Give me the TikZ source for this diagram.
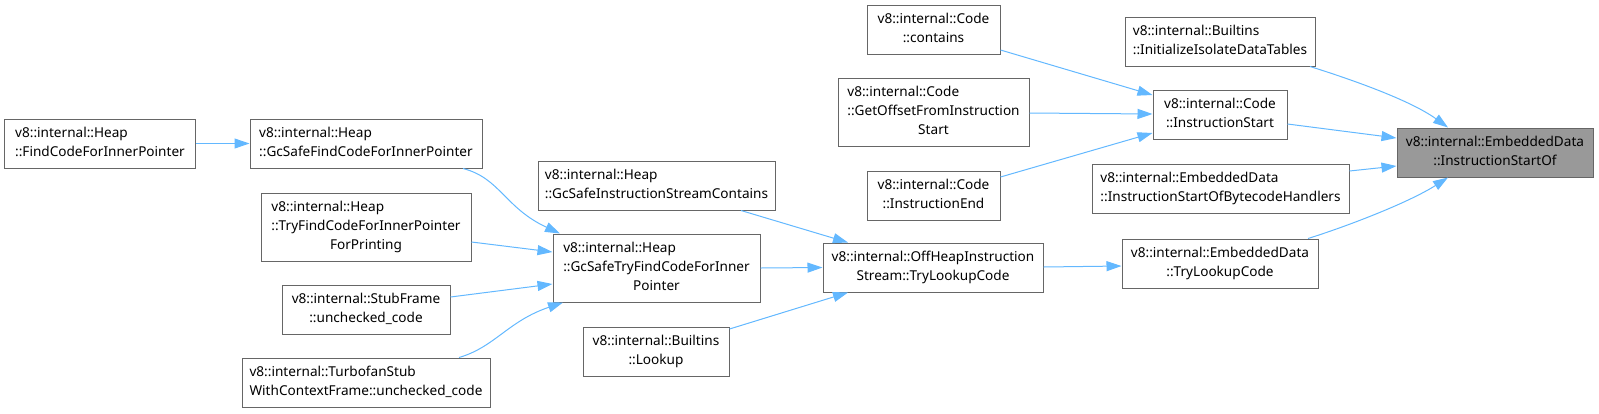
\documentclass[tikz,border=0pt]{standalone}
\usepackage{fontspec}
\setmainfont{Noto Sans}
\usetikzlibrary{arrows.meta}
\definecolor{edgeblue}{HTML}{63B8FF}
\definecolor{boxborder}{HTML}{666666}
\definecolor{hifill}{HTML}{999999}
\newcommand{\twol}[2]{\begin{tabular}{@{}l@{}}#1\\\multicolumn{1}{@{}c@{}}{#2}\end{tabular}}
\newcommand{\threel}[3]{\begin{tabular}{@{}l@{}}#1\\#2\\\multicolumn{1}{@{}c@{}}{#3}\end{tabular}}
\begin{document}
\begin{tikzpicture}[x=1bp,y=-1bp,
  box/.style={draw=boxborder, line width=1bp, fill=white, inner sep=0pt,
    minimum height=49bp, font=\fontsize{13.6bp}{19bp}\selectfont, text=black},
  tall/.style={minimum height=68bp},
  hilite/.style={fill=hifill},
  edge/.style={draw=edgeblue, line width=1bp, -{Triangle[length=15bp,width=10bp]}}]

\useasboundingbox (0,0) rectangle (1599,413);

% column 1
\node[box, minimum width=190bp] (A) at (100,143.5) {\twol{v8::internal::Heap}{::FindCodeForInnerPointer}};
% column 2
\node[box, minimum width=232bp] (B) at (366,143.5) {\twol{v8::internal::Heap}{::GcSafeFindCodeForInnerPointer}};
\node[box, tall, minimum width=210bp] (C) at (366,227) {\threel{v8::internal::Heap}{::TryFindCodeForInnerPointer}{ForPrinting}};
\node[box, minimum width=168bp] (D) at (366,309.5) {\twol{v8::internal::StubFrame}{::unchecked\_code}};
\node[box, minimum width=248bp] (E) at (366,382.5) {\twol{v8::internal::TurbofanStub}{WithContextFrame::unchecked\_code}};
% column 3
\node[box, minimum width=237bp] (F) at (656.5,185.5) {\twol{v8::internal::Heap}{::GcSafeInstructionStreamContains}};
\node[box, tall, minimum width=207bp] (G) at (656.5,268) {\threel{v8::internal::Heap}{::GcSafeTryFindCodeForInner}{Pointer}};
\node[box, minimum width=146bp] (H) at (656,351.5) {\twol{v8::internal::Builtins}{::Lookup}};
% column 4
\node[box, minimum width=133bp] (J) at (933.5,29.5) {\twol{v8::internal::Code}{::contains}};
\node[box, tall, minimum width=191bp] (K) at (933.5,112) {\threel{v8::internal::Code}{::GetOffsetFromInstruction}{Start}};
\node[box, minimum width=133bp] (L) at (933.5,195.5) {\twol{v8::internal::Code}{::InstructionEnd}};
\node[box, minimum width=220bp] (I) at (933,267.5) {\twol{v8::internal::OffHeapInstruction}{Stream::TryLookupCode}};
% column 5
\node[box, minimum width=190bp] (N) at (1220,41.5) {\twol{v8::internal::Builtins}{::InitializeIsolateDataTables}};
\node[box, minimum width=134bp] (M) at (1220,114.5) {\twol{v8::internal::Code}{::InstructionStart}};
\node[box, minimum width=257bp] (O) at (1220.5,188.5) {\twol{v8::internal::EmbeddedData}{::InstructionStartOfBytecodeHandlers}};
\node[box, minimum width=196bp] (P) at (1220,263.5) {\twol{v8::internal::EmbeddedData}{::TryLookupCode}};
% target
\node[box, hilite, minimum width=196bp] (Q) at (1495,152.5) {\twol{v8::internal::EmbeddedData}{::InstructionStartOf}};

% edges
\draw[edge] (A.east) -- (B.west);
\draw[edge] (463,0 |- B.south) .. controls (500,178) and (505,208) .. (560,0 |- G.north);
\draw[edge] (C.east |- 0,242) -- (G.west |- 0,252);
\draw[edge] (D.east |- 0,297) -- (G.west |- 0,284);
\draw[edge] (459,0 |- E.north) .. controls (495,347) and (508,321) .. (563,0 |- G.south);
\draw[edge] (741,0 |- F.south) -- (848,0 |- I.north);
\draw[edge] (G.east) -- (I.west);
\draw[edge] (H.east |- 0,329) -- (848,0 |- I.south);
\draw[edge] (I.east |- 0,267) -- (P.west |- 0,266);
\draw[edge] (J.east |- 0,50) -- (M.west |- 0,95);
\draw[edge] (K.east |- 0,113) -- (M.west |- 0,114);
\draw[edge] (L.east |- 0,177) -- (M.west |- 0,133);
\draw[edge] (1310,0 |- N.south) .. controls (1350,79) and (1410,100) .. (1448,0 |- Q.north);
\draw[edge] (M.east |- 0,124) -- (Q.west |- 0,138);
\draw[edge] (O.east |- 0,171) -- (Q.west |- 0,166);
\draw[edge] (1308,0 |- P.north) .. controls (1345,227) and (1408,203) .. (1448,0 |- Q.south);
\end{tikzpicture}
\end{document}
